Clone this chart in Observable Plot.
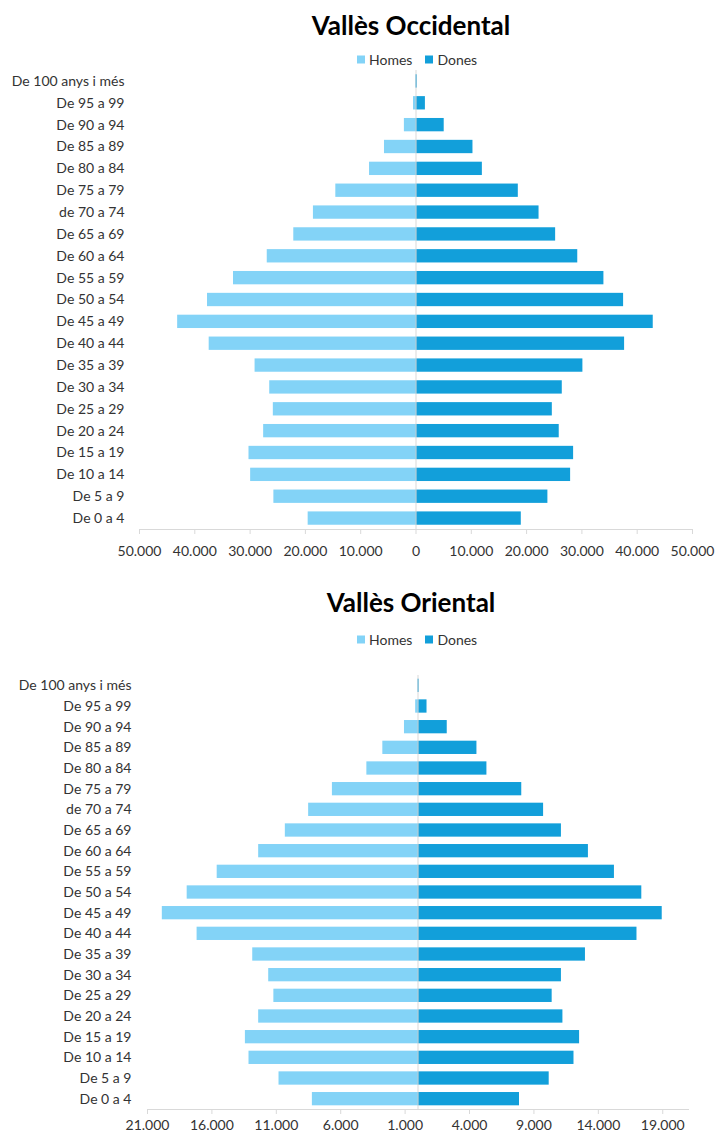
<!DOCTYPE html>
<html>
<head>
<meta charset="utf-8">
<script src="https://cdn.jsdelivr.net/npm/d3@7"></script>
<script src="https://cdn.jsdelivr.net/npm/@observablehq/plot@0.6"></script>
<style>
  html, body { margin: 0; padding: 0; background: #fff; }
  body { width: 715px; height: 1135px; position: relative; overflow: hidden; font-family: Lato, "Open Sans", sans-serif; }
  .title { position: absolute; transform: translate(-50%, -50%); font-weight: bold; font-size: 26px; color: #000; white-space: nowrap; z-index: 2; }
  .legend { position: absolute; display: flex; align-items: center; font-size: 14px; color: #333; transform: translateY(-50%); white-space: nowrap; z-index: 2; }
  .legend .sw { width: 8px; height: 8px; display: inline-block; margin-right: 4px; }
  .legend .item { display: flex; align-items: center; margin-right: 13px; }
  .chart { position: absolute; left: 0; z-index: 1; }
</style>
</head>
<body>
<script>
// ---- Data ----
const ageGroups = ["De 100 anys i més","De 95 a 99","De 90 a 94","De 85 a 89","De 80 a 84","De 75 a 79","de 70 a 74","De 65 a 69","De 60 a 64","De 55 a 59","De 50 a 54","De 45 a 49","De 40 a 44","De 35 a 39","De 30 a 34","De 25 a 29","De 20 a 24","De 15 a 19","De 10 a 14","De 5 a 9","De 0 a 4"];
const sexes = ["Homes", "Dones"];
const sexColors = ["#83D3F7", "#129FDA"];

const occidentalHomes = [60, 450, 2100, 5700, 8400, 14500, 18550, 22100, 26900, 33000, 37700, 43100, 37400, 29100, 26450, 25800, 27550, 30200, 29900, 25700, 19500];
const occidentalDones = [250, 1700, 5100, 10300, 12000, 18500, 22250, 25250, 29250, 33980, 37540, 42900, 37720, 30180, 26450, 24650, 25900, 28500, 27960, 23850, 19040];

const orientalHomes = [20, 180, 1050, 2730, 3970, 6645, 8490, 10300, 12370, 15590, 17920, 19850, 17150, 12830, 11590, 11190, 12370, 13400, 13120, 10790, 8200];
const orientalDones = [100, 700, 2270, 4575, 5350, 8055, 9750, 11135, 13230, 15250, 17375, 18960, 17000, 13000, 11135, 10415, 11250, 12545, 12110, 10185, 7880];

const occidentalTicks = [-50000, -40000, -30000, -20000, -10000, 0, 10000, 20000, 30000, 40000, 50000];
const orientalTicks = [-21000, -16000, -11000, -6000, -1000, 4000, 9000, 14000, 19000];

// ---- Helpers ----
const locale = d3.formatLocale({decimal: ",", thousands: ".", grouping: [3], currency: ["", " €"]});
const fmt = locale.format(",");

function toRows(homes, dones) {
  const rows = [];
  ageGroups.forEach((g, i) => {
    rows.push({age: g, sex: "Homes", value: -homes[i]});
    rows.push({age: g, sex: "Dones", value: dones[i]});
  });
  return rows;
}

function addTitle(text, x, y) {
  const d = document.createElement("div");
  d.className = "title";
  d.style.left = x + "px";
  d.style.top = y + "px";
  d.textContent = text;
  document.body.appendChild(d);
}

function addLegend(x, y) {
  const d = document.createElement("div");
  d.className = "legend";
  d.style.left = x + "px";
  d.style.top = y + "px";
  sexes.forEach((s, i) => {
    const it = document.createElement("span");
    it.className = "item";
    const sw = document.createElement("span");
    sw.className = "sw";
    sw.style.background = sexColors[i];
    it.appendChild(sw);
    it.appendChild(document.createTextNode(s));
    d.appendChild(it);
  });
  document.body.appendChild(d);
}

function pyramid({rows, domain, ticks, top, height, marginTop, marginBottom, marginLeft, marginRight, padInner, yPad, xPad}) {
  const svg = Plot.plot({
    width: 715,
    height,
    marginTop, marginBottom, marginLeft, marginRight,
    style: {fontFamily: "Lato, 'Open Sans', sans-serif", fontSize: "14px", color: "#333", background: "transparent", overflow: "visible"},
    x: {domain, label: null, axis: null},
    y: {domain: ageGroups, paddingInner: padInner, paddingOuter: padInner / 2, round: false, label: null, axis: null},
    color: {domain: sexes, range: sexColors},
    marks: [
      Plot.barX(rows, {x: "value", y: "age", fill: "sex"}),
      Plot.ruleX([0], {stroke: "#d9d9d9", strokeWidth: 1}),
      Plot.frame({anchor: "bottom", stroke: "#d9d9d9"}),
      Plot.axisX({ticks, tickFormat: d => fmt(Math.abs(d)), tickSize: 5, tickPadding: xPad, stroke: "#d9d9d9", fill: "#333", label: null}),
      Plot.axisY({tickSize: 0, tickPadding: yPad, fill: "#333", label: null})
    ]
  });
  svg.classList.add("chart");
  svg.style.top = top + "px";
  svg.style.position = "absolute";
  document.body.appendChild(svg);
}

// ---- Chart 1: Vallès Occidental ----
pyramid({
  rows: toRows(occidentalHomes, occidentalDones),
  domain: [-50000, 50000],
  ticks: occidentalTicks,
  top: 60, height: 505, marginTop: 10, marginBottom: 36,
  marginLeft: 139, marginRight: 23,
  padInner: 0.39, yPad: 15, xPad: 12
});
addTitle("Vallès Occidental", 411, 25);
addLegend(357, 59);

// ---- Chart 2: Vallès Oriental ----
pyramid({
  rows: toRows(orientalHomes, orientalDones),
  domain: [-21000, 21000],
  ticks: orientalTicks,
  top: 660, height: 475, marginTop: 15, marginBottom: 26,
  marginLeft: 147, marginRight: 27,
  padInner: 0.357, yPad: 16, xPad: 6
});
addTitle("Vallès Oriental", 411, 602);
addLegend(357, 639);
</script>
</body>
</html>
